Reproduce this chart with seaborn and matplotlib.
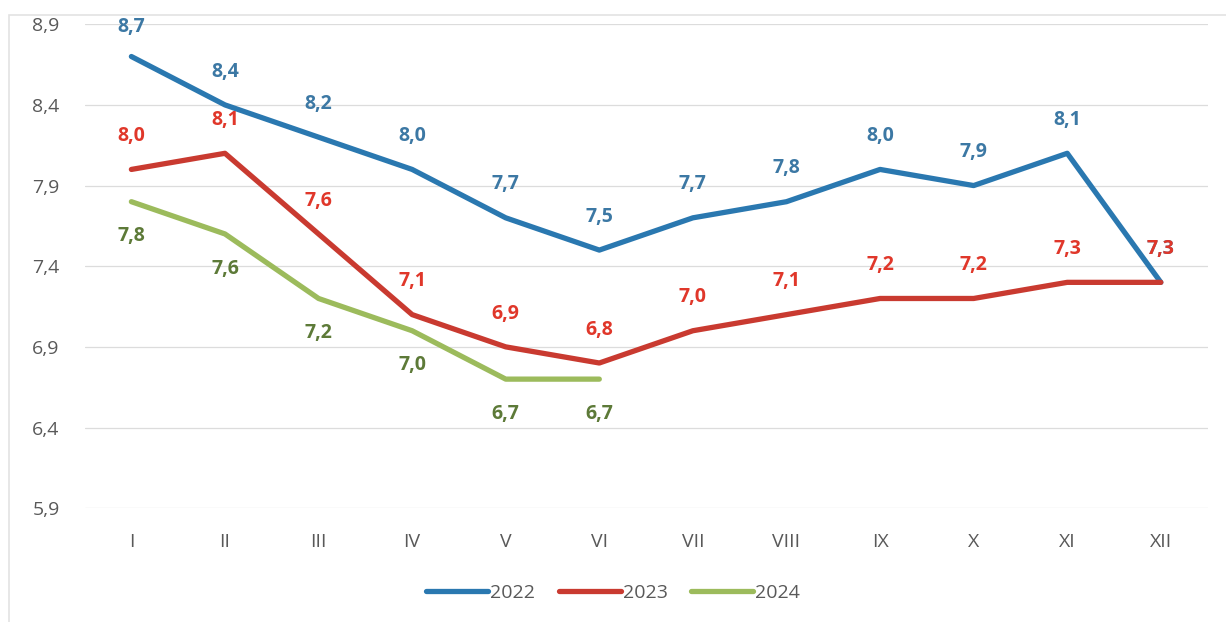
import pandas as pd
import matplotlib.pyplot as plt
from matplotlib.patches import Rectangle
import seaborn as sns

# Data
months = ['I', 'II', 'III', 'IV', 'V', 'VI', 'VII', 'VIII', 'IX', 'X', 'XI', 'XII']
y2022 = [8.7, 8.4, 8.2, 8.0, 7.7, 7.5, 7.7, 7.8, 8.0, 7.9, 8.1, 7.3]
y2023 = [8.0, 8.1, 7.6, 7.1, 6.9, 6.8, 7.0, 7.1, 7.2, 7.2, 7.3, 7.3]
y2024 = [7.8, 7.6, 7.2, 7.0, 6.7, 6.7]
yticks = [5.9, 6.4, 6.9, 7.4, 7.9, 8.4, 8.9]

rows = []
for year, vals in [('2022', y2022), ('2023', y2023), ('2024', y2024)]:
    for i, v in enumerate(vals):
        rows.append({'month': i, 'value': v, 'year': year})
df = pd.DataFrame(rows)

sns.set_style('white')
plt.rcParams['font.family'] = ['Open Sans', 'DejaVu Sans']

line_colors = {'2022': '#2a78b0', '2023': '#c93a30', '2024': '#9cbb5c'}
label_colors = {'2022': '#3c78a4', '2023': '#e0372a', '2024': '#5d7a38'}

fig = plt.figure(figsize=(12.26, 6.22), dpi=100)
ax = fig.add_axes([0.069, 0.183, 0.916, 0.778])

# light frame around the chart
fig.patches.append(Rectangle((0.007, -0.01), 1.0, 0.986, transform=fig.transFigure,
                             fill=False, edgecolor='#e3e3e3', lw=1.2))

sns.lineplot(data=df, x='month', y='value', hue='year', palette=line_colors,
             linewidth=3.8, ax=ax, legend=True)
for l in ax.lines:
    l.set_solid_capstyle('round')
    l.set_solid_joinstyle('round')

# data labels
for year, vals in [('2022', y2022), ('2023', y2023), ('2024', y2024)]:
    for i, v in enumerate(vals):
        off = -25 if year == '2024' else 24
        if year == '2022' and i == 0:
            off = 21
        ax.annotate(f'{v:.1f}'.replace('.', ','), (i, v), xytext=(0, off),
                    textcoords='offset points', ha='center', va='center',
                    fontsize=14, fontweight='bold', color=label_colors[year],
                    zorder=5 if year == '2023' else 4)

ax.set_xlim(-0.5, 11.5)
ax.set_ylim(5.9, 8.9)
ax.set_yticks(yticks)
ax.set_yticklabels([f'{t:.1f}'.replace('.', ',') for t in yticks])
ax.set_xticks(range(len(months)))
ax.set_xticklabels(months)
ax.tick_params(axis='both', labelsize=14, labelcolor='#595959', length=0)
ax.tick_params(axis='x', pad=18)
ax.tick_params(axis='y', pad=18)
ax.grid(axis='y', color='#dcdcdc', linewidth=0.9)
ax.set_axisbelow(True)
for s in ax.spines.values():
    s.set_visible(False)
ax.set_xlabel('')
ax.set_ylabel('')

handles, labels = ax.get_legend_handles_labels()
ax.legend(handles, labels, loc='center', bbox_to_anchor=(0.5, 0.047),
          bbox_transform=fig.transFigure, ncol=3, frameon=False,
          fontsize=14, handlelength=3.2, handletextpad=0.1, columnspacing=1.2,
          labelcolor='#595959')

fig.savefig('out.png', dpi=100)
